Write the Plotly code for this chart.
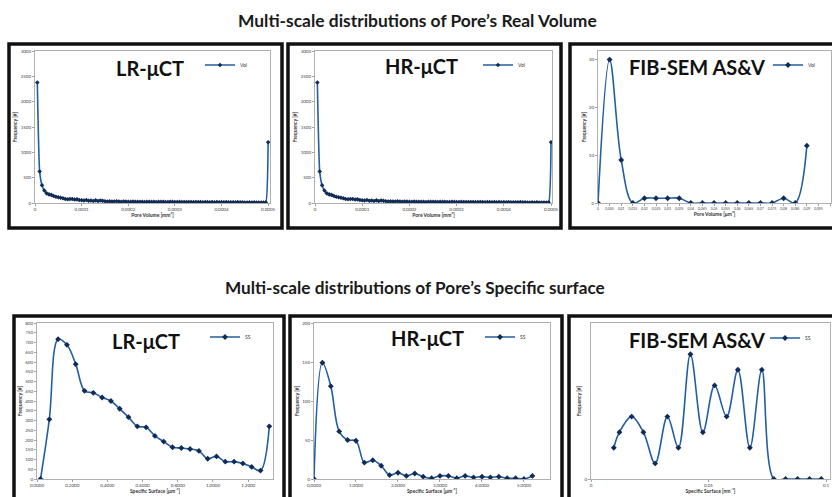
import plotly.graph_objects as go

# ---------------- DATA ----------------
# Pore volume bins (in 1e-6 mm^3 units, i.e. 5 -> 0,000005 mm^3)
vol_bins = [5, 10, 15, 20, 25, 30, 35, 40, 45, 50, 55, 60, 65, 70, 75, 80, 85, 90, 95, 100,
            105, 110, 115, 120, 125, 130, 135, 140, 145, 150, 155, 160, 165, 170, 175, 180, 185, 190, 195, 200,
            205, 210, 215, 220, 225, 230, 235, 240, 245, 250, 255, 260, 265, 270, 275, 280, 285, 290, 295, 300,
            305, 310, 315, 320, 325, 330, 335, 340, 345, 350, 355, 360, 365, 370, 375, 380, 385, 390, 395, 400,
            405, 410, 415, 420, 425, 430, 435, 440, 445, 450, 455, 460, 465, 470, 475, 480, 485, 490, 495, 500]
vol_lr = [2380, 620, 350, 245, 190, 170, 160, 140, 125, 115, 105, 95, 80, 75, 80, 78, 70, 72, 60, 55,
          50, 58, 45, 48, 40, 52, 38, 50, 42, 35, 30, 32, 28, 30, 34, 28, 26, 30, 27, 25,
          22, 28, 24, 26, 22, 25, 20, 23, 25, 22, 24, 20, 26, 22, 24, 21, 20, 24, 22, 20,
          18, 22, 20, 19, 21, 18, 20, 17, 19, 18, 20, 16, 18, 17, 15, 19, 16, 18, 14, 17,
          15, 18, 14, 16, 13, 15, 17, 12, 14, 10, 8, 12, 10, 13, 9, 11, 10, 8, 12, 1200]
vol_hr = [2380, 620, 350, 245, 190, 170, 160, 140, 125, 115, 105, 95, 80, 75, 80, 78, 70, 72, 60, 55,
          50, 58, 45, 48, 40, 52, 38, 50, 42, 35, 30, 32, 28, 30, 34, 28, 26, 30, 27, 25,
          22, 28, 24, 26, 22, 25, 20, 23, 25, 22, 24, 20, 26, 22, 24, 21, 20, 24, 22, 20,
          18, 22, 20, 19, 21, 18, 20, 17, 19, 18, 20, 16, 18, 17, 15, 19, 16, 18, 14, 17,
          15, 18, 14, 16, 13, 15, 17, 12, 14, 10, 8, 12, 10, 13, 9, 11, 10, 8, 12, 1200]

fib_vol_x = [0, 0.005, 0.01, 0.015, 0.02, 0.025, 0.03, 0.035, 0.04, 0.045, 0.05, 0.055,
             0.06, 0.065, 0.07, 0.075, 0.08, 0.085, 0.09]
fib_vol_y = [0, 30, 9, 0, 1, 1, 1, 1, 0, 0, 0, 0, 0, 0, 0, 0, 1, 0, 12]

ss_lr_x = [0.02, 0.07, 0.12, 0.17, 0.22, 0.27, 0.32, 0.37, 0.42, 0.47, 0.52, 0.57, 0.62, 0.67,
           0.72, 0.77, 0.82, 0.87, 0.92, 0.97, 1.02, 1.07, 1.12, 1.17, 1.22, 1.27, 1.32]
ss_lr_y = [0, 306, 717, 688, 589, 452, 442, 418, 400, 360, 317, 270, 265, 221,
           192, 163, 159, 154, 144, 104, 116, 89, 89, 80, 62, 43, 270]

ss_hr_x = [0, 0.2, 0.4, 0.6, 0.8, 1.0, 1.2, 1.4, 1.6, 1.8, 2.0, 2.2, 2.4, 2.6,
           2.8, 3.0, 3.2, 3.4, 3.6, 3.8, 4.0, 4.2, 4.4, 4.6, 4.8, 5.0, 5.2]
ss_hr_y = [0, 149, 119, 61, 50, 49, 21, 24, 17, 5, 8, 4, 7, 3,
           1, 4, 4, 1, 4, 2, 3, 2, 3, 1, 1, 0, 4]

ss_fib_x = [0.0097, 0.0121, 0.0173, 0.0223, 0.0273, 0.0325, 0.0372, 0.0423, 0.0476, 0.0526,
            0.0577, 0.0625, 0.0676, 0.0727, 0.0778, 0.0828, 0.0879, 0.0930, 0.0980]
ss_fib_y = [2, 3, 4, 3, 1, 4, 2, 8, 3, 6, 4, 7, 2, 7, 0, 0, 0, 0, 0]

# tick labels
vol_tickvals = [0, 100, 200, 300, 400, 500]
vol_ticktext = ["0", "0,0001", "0,0002", "0,0003", "0,0004", "0,0005"]
vol_ytickvals = [0, 500, 1000, 1500, 2000, 2500, 3000]
fib_vol_tickvals = [0, 0.005, 0.01, 0.015, 0.02, 0.025, 0.03, 0.035, 0.04, 0.045, 0.05,
                    0.055, 0.06, 0.065, 0.07, 0.075, 0.08, 0.085, 0.09, 0.095, 0.1]
fib_vol_ticktext = ["0", "0,005", "0,01", "0,015", "0,02", "0,025", "0,03", "0,035", "0,04",
                    "0,045", "0,05", "0,055", "0,06", "0,065", "0,07", "0,075", "0,08",
                    "0,085", "0,09", "0,095", "0,1"]
fib_vol_ytickvals = [0, 10, 20, 30]
ss_lr_tickvals = [0, 0.2, 0.4, 0.6, 0.8, 1.0, 1.2]
ss_lr_ticktext = ["0,0000", "0,2000", "0,4000", "0,6000", "0,8000", "1,0000", "1,2000"]
ss_lr_ytickvals = [0, 50, 100, 150, 200, 250, 300, 350, 400, 450, 500, 550, 600, 650, 700, 750, 800]
ss_hr_tickvals = [0, 1, 2, 3, 4, 5]
ss_hr_ticktext = ["0,0000", "1,0000", "2,0000", "3,0000", "4,0000", "5,0000"]
ss_hr_ytickvals = [0, 50, 100, 150, 200]
ss_fib_tickvals = [0, 0.05, 0.1]
ss_fib_ticktext = ["0", "0,05", "0,1"]

# ---------------- FIGURE ----------------
W, H = 832, 497
FONT = "Lato"
LINE_C = "#235ea3"
MARK_C = "#122b55"

def px_x(p):
    return p / W

def px_y(p):
    return 1 - p / H

fig = go.Figure()

panels = [
    dict(x=vol_bins, y=vol_lr, name="Vol", xd=(35, 270), yd=(51, 203), xr=[0, 504], yr=[0, 3000],
         xtv=vol_tickvals, xtt=vol_ticktext, ytv=vol_ytickvals, xt="Pore Volume [mm³]", leg=(200, 65),
         sm=0.5, ms=3.5, xfs=4.5),
    dict(x=vol_bins, y=vol_hr, name="Vol", xd=(315, 552), yd=(51, 203), xr=[0, 502], yr=[0, 3000],
         xtv=vol_tickvals, xtt=vol_ticktext, ytv=vol_ytickvals, xt="Pore Volume [mm³]", leg=(478, 65),
         sm=0.5, ms=3.5, xfs=4.5),
    dict(x=fib_vol_x, y=fib_vol_y, name="Vol", xd=(598, 831), yd=(51, 203), xr=[0, 0.1004], yr=[0, 31.8],
         xtv=fib_vol_tickvals, xtt=fib_vol_ticktext, ytv=fib_vol_ytickvals, xt="Pore Volume [μm³]", leg=(768, 65),
         sm=1.0, ms=4.5, xfs=3.4),
    dict(x=ss_lr_x, y=ss_lr_y, name="SS", xd=(37, 273), yd=(323, 479), xr=[0, 1.341], yr=[0, 800],
         xtv=ss_lr_tickvals, xtt=ss_lr_ticktext, ytv=ss_lr_ytickvals, xt="Specific Surface [μm⁻¹]", leg=(205, 337),
         sm=1.0, ms=4.5, xfs=4.5),
    dict(x=ss_hr_x, y=ss_hr_y, name="SS", xd=(314, 550), yd=(323, 479), xr=[0, 5.62], yr=[0, 200],
         xtv=ss_hr_tickvals, xtt=ss_hr_ticktext, ytv=ss_hr_ytickvals, xt="Specific Surface [μm⁻¹]", leg=(480, 337),
         sm=1.0, ms=4.5, xfs=4.5),
    dict(x=ss_fib_x, y=ss_fib_y, name="SS", xd=(591, 830), yd=(323, 479), xr=[0, 0.1017], yr=[0, 10],
         xtv=ss_fib_tickvals, xtt=ss_fib_ticktext, ytv=[0], xt="Specific Surface [nm⁻¹]", leg=(765, 338),
         sm=1.0, ms=4.5, xfs=4.5),
]

layout = dict(
    width=W, height=H, margin=dict(l=0, r=0, t=0, b=0, autoexpand=False),
    paper_bgcolor="white", plot_bgcolor="white",
    font=dict(family=FONT, color="#333333"),
    showlegend=True,
)

for i, p in enumerate(panels):
    k = "" if i == 0 else str(i + 1)
    legname = "legend" + k
    fig.add_trace(go.Scatter(
        x=p["x"], y=p["y"], name=p["name"], mode="lines+markers",
        line=dict(color=LINE_C, width=1.6, shape="spline", smoothing=p["sm"]),
        marker=dict(color=MARK_C, size=p["ms"], symbol="diamond"),
        xaxis="x" + k, yaxis="y" + k, legend=legname, cliponaxis=True,
    ))
    layout["xaxis" + k] = dict(
        domain=[px_x(p["xd"][0]), px_x(p["xd"][1])], range=p["xr"], anchor="y" + k,
        tickmode="array", tickvals=p["xtv"], ticktext=p["xtt"], tickangle=0,
        tickfont=dict(size=p["xfs"], color="#404040", family=FONT),
        showgrid=False, zeroline=False, showline=True, linecolor="#b0b0b0", linewidth=1, mirror=True,
        ticks="outside", ticklen=2, tickcolor="#a0a0a0", automargin=False,
        title=dict(text="<b>" + p["xt"] + "</b>", font=dict(size=5, color="#333333", family=FONT), standoff=2),
        fixedrange=True,
    )
    layout["yaxis" + k] = dict(
        domain=[px_y(p["yd"][1]), px_y(p["yd"][0])], range=p["yr"], anchor="x" + k,
        tickmode="array", tickvals=p["ytv"],
        tickfont=dict(size=4.5, color="#404040", family=FONT),
        showgrid=False, zeroline=False, showline=True, linecolor="#b0b0b0", linewidth=1, mirror=True,
        ticks="outside", ticklen=2, tickcolor="#a0a0a0", automargin=False,
        title=dict(text="<b>Frequency [#]</b>", font=dict(size=5, color="#333333", family=FONT), standoff=2),
        fixedrange=True,
    )
    layout[legname] = dict(
        x=px_x(p["leg"][0]), y=px_y(p["leg"][1]), xanchor="left", yanchor="middle",
        font=dict(size=5, color="#333333", family=FONT), bgcolor="rgba(0,0,0,0)",
        itemwidth=30, tracegroupgap=0,
    )

# panel frames (thick black borders)
frames = [(9, 44, 282, 228), (288, 44, 561, 228), (570, 44, 845, 228),
          (14, 316, 284, 510), (290, 316, 562, 510), (569, 316, 845, 510)]
shapes = []
for (x0, y0, x1, y1) in frames:
    shapes.append(dict(type="rect", xref="paper", yref="paper",
                       x0=px_x(x0), x1=px_x(x1), y0=px_y(y1), y1=px_y(y0),
                       line=dict(color="#111111", width=3.5), fillcolor="rgba(0,0,0,0)", layer="above"))
layout["shapes"] = shapes

annotations = [
    dict(text="<b>Multi-scale distributions of Pore’s Real Volume</b>", x=px_x(417), y=px_y(20),
         font=dict(size=17.4, color="#1a1a1a", family=FONT)),
    dict(text="<b>Multi-scale distributions of Pore’s Specific surface</b>", x=px_x(415), y=px_y(287),
         font=dict(size=17.2, color="#1a1a1a", family=FONT)),
    dict(text="<b>LR-μCT</b>", x=px_x(150), y=px_y(68), font=dict(size=20, color="#111111", family=FONT)),
    dict(text="<b>HR-μCT</b>", x=px_x(421), y=px_y(66), font=dict(size=20, color="#111111", family=FONT)),
    dict(text="<b>FIB-SEM AS&V</b>", x=px_x(697), y=px_y(67), font=dict(size=20, color="#111111", family=FONT)),
    dict(text="<b>LR-μCT</b>", x=px_x(146), y=px_y(341), font=dict(size=20, color="#111111", family=FONT)),
    dict(text="<b>HR-μCT</b>", x=px_x(428), y=px_y(338), font=dict(size=20, color="#111111", family=FONT)),
    dict(text="<b>FIB-SEM AS&V</b>", x=px_x(697), y=px_y(340), font=dict(size=20, color="#111111", family=FONT)),
]
for a in annotations:
    a.update(xref="paper", yref="paper", showarrow=False, xanchor="center", yanchor="middle")
layout["annotations"] = annotations

fig.update_layout(**layout)
fig.write_html("out.html", config={"displayModeBar": False},
               post_script="document.body.style.margin='0';document.body.style.padding='0';")
